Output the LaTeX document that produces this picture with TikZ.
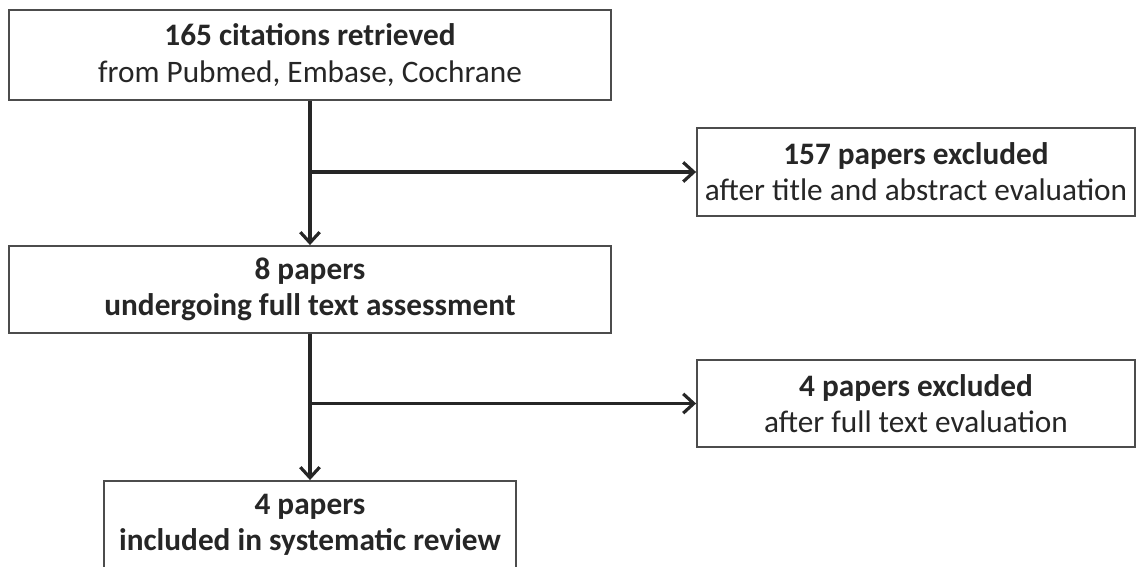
\documentclass[tikz,border=0pt]{standalone}
\usepackage{fontspec}
\setmainfont{Carlito}
\usetikzlibrary{arrows.meta}
\begin{document}
\begin{tikzpicture}[x=0.02cm,y=-0.02cm,
  box/.style={draw=black!70,line width=1.1pt,align=center,inner sep=0pt,text=black!85,
    font=\fontsize{17.8}{20.5}\selectfont},
  flow/.style={line width=1.8pt,draw=black!85,-{Straight Barb[length=6pt,width=11pt,line width=1.8pt]}}]
\useasboundingbox (0,0) rectangle (1137,566);
\node[box,minimum width=12.04cm,minimum height=1.8cm] (found) at (310,55)
  {\textbf{165 citations retrieved}\\from Pubmed, Embase, Cochrane};
\node[box,minimum width=8.76cm,minimum height=1.76cm] (excla) at (916,172)
  {\textbf{157 papers excluded}\\after title and abstract evaluation};
\node[box,minimum width=12.04cm,minimum height=1.74cm] (full) at (310,289.5)
  {\textbf{8 papers}\\\textbf{undergoing full text assessment}};
\node[box,minimum width=8.76cm,minimum height=1.74cm] (exclb) at (916,403.5)
  {\textbf{4 papers excluded}\\after full text evaluation};
\node[box,minimum width=8.26cm,minimum height=1.74cm] (incl) at (310,524.5)
  {\textbf{4 papers}\\\textbf{included in systematic review}};
\draw[flow] (found.south) -- (full.north);
\draw[flow] (found.south |- excla.west) -- (excla.west);
\draw[flow] (full.south) -- (incl.north);
\draw[flow] (full.south |- exclb.west) -- (exclb.west);
\end{tikzpicture}
\end{document}
